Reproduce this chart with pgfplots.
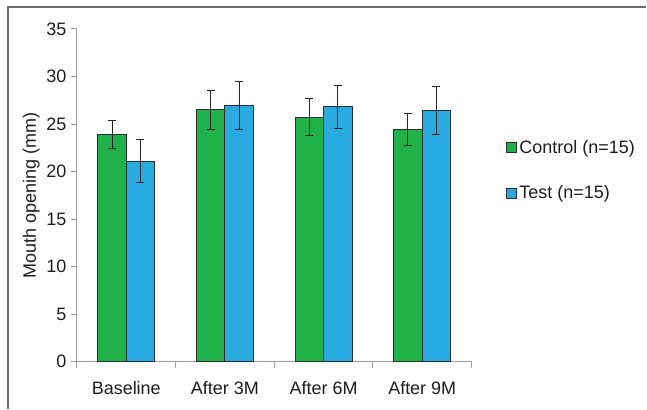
\documentclass[border=0pt]{standalone}
\usepackage{fontspec}
\setmainfont{Liberation Sans}
\usepackage{pgfplots}
\pgfplotsset{compat=1.18}
\definecolor{cgreen}{RGB}{33,177,75}
\definecolor{cblue}{RGB}{41,171,226}
\definecolor{edge}{RGB}{45,45,45}
\definecolor{axgray}{RGB}{160,160,160}
\definecolor{framegray}{RGB}{110,110,110}
\definecolor{txt}{RGB}{30,28,28}
\pgfplotsset{
  myerr/.style={
    error bars/y dir=both, error bars/y explicit,
    error bars/error bar style={line width=1pt, black!85},
    error bars/error mark options={rotate=90, mark size=4pt, line width=1pt, black!85},
  }
}
\begin{document}
\begin{tikzpicture}
\path (0pt,0pt) rectangle (647pt,409pt);
\draw[framegray, line width=1.2pt] (8pt,0pt) -- (8pt,402pt) -- (647pt,402pt);
\begin{axis}[
  at={(77pt,47pt)}, anchor=south west,
  scale only axis, width=395pt, height=333pt,
  xmin=-0.5, xmax=3.5, ymin=0, ymax=35,
  axis x line*=bottom, axis y line*=left,
  axis line style={axgray, line width=1pt},
  every tick/.style={axgray, line width=1pt},
  ytick={0,5,...,35},
  xtick={0,1,2,3},
  xticklabels={Baseline, After 3M, After 6M, After 9M},
  major x tick style={draw=none},
  minor xtick={-0.5,0.5,1.5,2.5,3.5},
  tick align=outside,
  major tick length=6pt, minor tick length=6pt,
  tick label style={font=\fontsize{18}{18}\selectfont, text=txt},
  xticklabel style={yshift=-10pt},
  yticklabel style={xshift=-1pt},
  /pgf/number format/assume math mode=true,
  ylabel={Mouth opening (mm)},
  ylabel style={font=\fontsize{18}{18}\selectfont, text=txt},
  ybar=0pt, bar width=28.5pt,
  clip=false,
  legend style={draw=none, fill=none, at={(axis description cs:1.088,0.672)}, anchor=north west,
    font=\fontsize{18}{18}\selectfont, text=txt, row sep=27pt, inner sep=0pt},
  legend cell align=left,
  legend image code/.code={\draw[#1, line width=1pt] (0pt,-5pt) rectangle (10pt,5pt);},
]
\addplot[fill=cgreen, draw=edge, line width=1pt, myerr] coordinates {
  (0,23.9) +- (0,1.5)
  (1,26.5) +- (0,2.05)
  (2,25.7) +- (0,1.95)
  (3,24.4) +- (0,1.7)
};
\addplot[fill=cblue, draw=edge, line width=1pt, myerr] coordinates {
  (0,21.1) +- (0,2.3)
  (1,26.95) +- (0,2.5)
  (2,26.8) +- (0,2.3)
  (3,26.4) +- (0,2.55)
};
\legend{Control (n=15), Test (n=15)}
\end{axis}
\end{tikzpicture}
\end{document}
